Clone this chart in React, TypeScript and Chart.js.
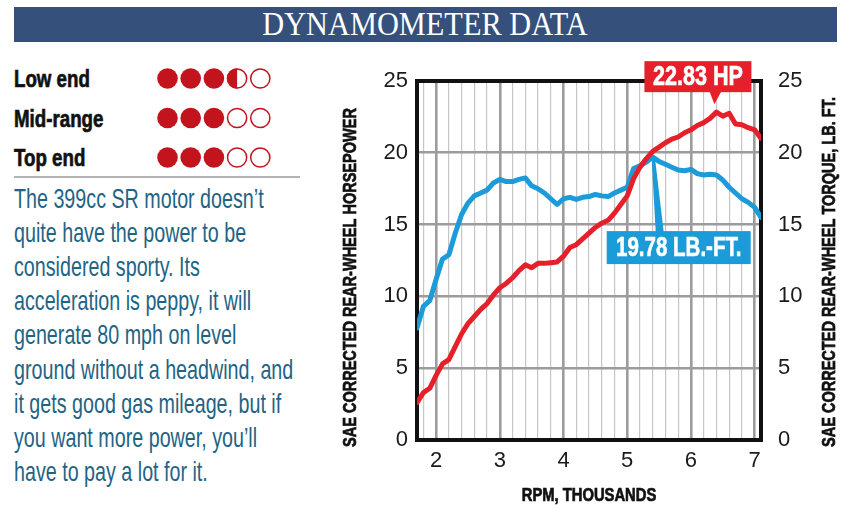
import React, { useEffect, useRef } from 'react';
import { Chart, registerables } from 'chart.js';

Chart.register(...registerables);

// ---------- data ----------
const rpm = [
  1.7, 1.8, 1.9, 2.0, 2.1, 2.2, 2.3, 2.4, 2.5, 2.6, 2.7, 2.8, 2.9, 3.0, 3.1, 3.2, 3.3, 3.4, 3.5,
  3.6, 3.7, 3.8, 3.9, 4.0, 4.1, 4.2, 4.3, 4.4, 4.5, 4.6, 4.7, 4.8, 4.9, 5.0, 5.1, 5.2, 5.3, 5.4,
  5.5, 5.6, 5.7, 5.8, 5.9, 6.0, 6.1, 6.2, 6.3, 6.4, 6.5, 6.6, 6.7, 6.8, 6.9, 7.0, 7.1,
];
const horsepower = [
  2.6, 3.3, 3.6, 4.5, 5.3, 5.6, 6.5, 7.4, 8.1, 8.6, 9.1, 9.5, 10.1, 10.6, 10.9, 11.3, 11.8, 12.2, 12.0,
  12.3, 12.3, 12.35, 12.4, 12.8, 13.4, 13.6, 14.0, 14.4, 14.8, 15.1, 15.3, 15.8, 16.4, 17.0, 18.2, 19.0, 19.6, 20.1,
  20.4, 20.7, 20.95, 21.1, 21.4, 21.6, 21.9, 22.1, 22.4, 22.83, 22.55, 22.75, 22.0, 21.95, 21.75, 21.6, 21.0,
];
const torque = [
  7.8, 9.3, 9.7, 11.2, 12.6, 12.9, 14.4, 15.7, 16.5, 17.0, 17.2, 17.4, 17.9, 18.15, 18.0, 18.0, 18.15, 18.25, 17.7,
  17.5, 17.2, 16.8, 16.4, 16.8, 16.9, 16.75, 16.9, 16.95, 17.1, 17.0, 16.95, 17.2, 17.4, 17.6, 18.9, 19.1, 19.35, 19.7,
  19.4, 19.2, 19.0, 18.8, 18.75, 18.85, 18.55, 18.45, 18.5, 18.45, 18.1, 17.6, 17.2, 16.8, 16.55, 16.2, 15.5,
];
const rpmTickLabels = [2, 3, 4, 5, 6, 7];
const valueTicks = [0, 5, 10, 15, 20, 25];
const hpCallout = '22.83 HP';
const torqueCallout = '19.78 LB.-FT.';

const headerTitle = 'DYNAMOMETER DATA';
const ratingLabels = ['Low end', 'Mid-range', 'Top end'];
const ratingScores = [3.5, 3, 3];
const paragraphLines = [
  'The 399cc SR motor doesn\u2019t',
  'quite have the power to be',
  'considered sporty. Its',
  'acceleration is peppy, it will',
  'generate 80 mph on level',
  'ground without a headwind, and',
  'it gets good gas mileage, but if',
  'you want more power, you\u2019ll',
  'have to pay a lot for it.',
];
const xTitle = 'RPM, THOUSANDS';
const leftTitle = 'SAE CORRECTED REAR-WHEEL HORSEPOWER';
const rightTitle = 'SAE CORRECTED REAR-WHEEL TORQUE, LB. FT.';

// ---------- styles ----------
const SANS = "'Liberation Sans', Arial, sans-serif";
const SERIF = "'Liberation Serif', 'DejaVu Serif', serif";
const RED = '#e5202b';
const BLUE = '#1b9bd7';
const NAVY = '#34507b';
const DOT_RED = '#c3141d';
const TEXT_TEAL = '#1f6485';

const isMajor = (v: number) => Math.abs(v - Math.round(v)) < 1e-6;

// draw horizontally-condensed text on the canvas (emulates a narrow typeface)
function condensedText(
  ctx: CanvasRenderingContext2D,
  text: string,
  x: number,
  y: number,
  sx: number,
  align: CanvasTextAlign,
  rotation = 0,
  heavy = 0,
) {
  ctx.save();
  ctx.translate(x, y);
  if (rotation) ctx.rotate(rotation);
  ctx.scale(sx, 1);
  ctx.textAlign = align;
  ctx.fillText(text, 0, 0);
  if (heavy > 0) {
    ctx.lineWidth = heavy;
    ctx.strokeStyle = ctx.fillStyle as string;
    ctx.strokeText(text, 0, 0);
  }
  ctx.restore();
}

const overlayPlugin = {
  id: 'dynoOverlay',
  beforeDatasetsDraw(chart: any) {
    const { ctx, chartArea: a } = chart;
    ctx.save();
    ctx.strokeStyle = '#111';
    ctx.lineWidth = 4;
    ctx.strokeRect(a.left, a.top, a.right - a.left, a.bottom - a.top);
    ctx.restore();
  },
  afterDatasetsDraw(chart: any) {
    const { ctx } = chart;
    const xs = chart.scales.x;
    const ys = chart.scales.y;
    const ys1 = chart.scales.y1;
    ctx.save();
    ctx.font = `bold 27px ${SANS}`;
    ctx.textBaseline = 'middle';

    // HP callout
    let hi = 0;
    horsepower.forEach((v, i) => { if (v > horsepower[hi]) hi = i; });
    const hx = xs.getPixelForValue(rpm[hi]);
    const hy = ys.getPixelForValue(horsepower[hi]);
    const hbL = hx - 72, hbR = hx + 35, hbT = hy - 51, hbB = hy - 20;
    ctx.fillStyle = RED;
    ctx.fillRect(hbL, hbT, hbR - hbL, hbB - hbT);
    ctx.beginPath();
    ctx.moveTo(hx - 7, hbB - 1);
    ctx.lineTo(hx + 5, hbB - 1);
    ctx.lineTo(hx - 2, hy - 8);
    ctx.closePath();
    ctx.fill();
    ctx.fillStyle = '#ffffff';
    condensedText(ctx, hpCallout, (hbL + hbR) / 2, (hbT + hbB) / 2 + 1, 0.8, 'center', 0, 0.6);

    // Torque callout
    let ti = 0;
    torque.forEach((v, i) => { if (v > torque[ti]) ti = i; });
    const tx = xs.getPixelForValue(rpm[ti]);
    const ty = ys1.getPixelForValue(torque[ti]);
    const tbL = tx - 46, tbR = tx + 98, tbT = ty + 74, tbB = ty + 107;
    ctx.fillStyle = BLUE;
    ctx.beginPath();
    ctx.moveTo(tx - 1, ty + 3);
    ctx.lineTo(tx + 2.5, ty + 3);
    ctx.lineTo(tx + 11, tbT + 1);
    ctx.lineTo(tx + 3, tbT + 1);
    ctx.closePath();
    ctx.fill();
    ctx.fillRect(tbL, tbT, tbR - tbL, tbB - tbT);
    ctx.fillStyle = '#ffffff';
    condensedText(ctx, torqueCallout, (tbL + tbR) / 2, (tbT + tbB) / 2 + 1, 0.76, 'center', 0, 0.6);
    ctx.restore();
  },
  afterDraw(chart: any) {
    const { ctx, chartArea: a } = chart;
    ctx.save();
    ctx.fillStyle = '#111111';
    ctx.textBaseline = 'middle';
    ctx.font = `bold 17.5px ${SANS}`;
    condensedText(ctx, leftTitle, a.left - 66, a.bottom + 7, 0.83, 'left', -Math.PI / 2, 0.7);
    condensedText(ctx, rightTitle, a.right + 69, a.bottom + 7, 0.83, 'left', -Math.PI / 2, 0.7);
    ctx.font = `bold 18px ${SANS}`;
    condensedText(ctx, xTitle, (a.left + a.right) / 2, a.bottom + 56, 0.82, 'center', 0, 0.7);
    ctx.restore();
  },
};

function RatingDots({ score, cy }: { score: number; cy: number }) {
  const items = [];
  for (let i = 0; i < 5; i++) {
    const cx = 167.5 + i * 23.2;
    if (score >= i + 1) {
      items.push(<circle key={i} cx={cx} cy={cy} r={10.3} fill={DOT_RED} />);
    } else if (score >= i + 0.5) {
      items.push(
        <g key={i}>
          <circle cx={cx} cy={cy} r={9.6} fill="#fff" stroke={DOT_RED} strokeWidth={1.5} />
          <path d={`M ${cx} ${cy - 10.3} A 10.3 10.3 0 0 0 ${cx} ${cy + 10.3} Z`} fill={DOT_RED} />
        </g>,
      );
    } else {
      items.push(<circle key={i} cx={cx} cy={cy} r={9.6} fill="#fff" stroke={DOT_RED} strokeWidth={1.5} />);
    }
  }
  return <g>{items}</g>;
}

export default function App() {
  const canvasRef = useRef<HTMLCanvasElement>(null);

  useEffect(() => {
    if (!canvasRef.current) return;
    const tickFont = { family: SANS, size: 22 };
    const chart = new Chart(canvasRef.current, {
      type: 'line',
      data: {
        datasets: [
          {
            label: 'Horsepower',
            data: rpm.map((r, i) => ({ x: r, y: horsepower[i] })),
            borderColor: RED,
            backgroundColor: RED,
            borderWidth: 5,
            pointRadius: 0,
            tension: 0,
            borderJoinStyle: 'round',
            borderCapStyle: 'round',
            yAxisID: 'y',
          },
          {
            label: 'Torque',
            data: rpm.map((r, i) => ({ x: r, y: torque[i] })),
            borderColor: BLUE,
            backgroundColor: BLUE,
            borderWidth: 5,
            pointRadius: 0,
            tension: 0,
            borderJoinStyle: 'round',
            borderCapStyle: 'round',
            yAxisID: 'y1',
          },
        ],
      },
      options: {
        responsive: false,
        animation: false,
        devicePixelRatio: 1,
        layout: { padding: { top: 31, left: 0, right: 0, bottom: 0 } },
        plugins: { legend: { display: false }, tooltip: { enabled: false } },
        scales: {
          x: {
            type: 'linear',
            min: 1.7,
            max: 7.1,
            afterBuildTicks: (axis: any) => {
              const t = [];
              for (let k = 9; k <= 35; k++) t.push({ value: k / 5 });
              axis.ticks = t;
            },
            afterFit: (s: any) => { s.height = 75; },
            border: { display: false },
            grid: {
              drawTicks: false,
              color: (c: any) => (c.tick && isMajor(c.tick.value) ? '#9c9c9c' : '#c6c6c6'),
              lineWidth: (c: any) => (c.tick && isMajor(c.tick.value) ? 2.6 : 1.2),
            },
            ticks: {
              autoSkip: false,
              maxRotation: 0,
              padding: 8,
              font: tickFont,
              color: '#1a1a1a',
              callback: (v: any) => {
                const n = Number(v);
                return rpmTickLabels.some((t) => Math.abs(t - n) < 1e-6) ? String(Math.round(n)) : '';
              },
            },
          },
          y: {
            position: 'left',
            min: valueTicks[0],
            max: valueTicks[valueTicks.length - 1],
            afterFit: (s: any) => { s.width = 87; },
            border: { display: false },
            grid: { drawTicks: false, color: '#9c9c9c', lineWidth: 2.6 },
            ticks: { stepSize: 5, padding: 9, font: tickFont, color: '#1a1a1a' },
          },
          y1: {
            position: 'right',
            min: valueTicks[0],
            max: valueTicks[valueTicks.length - 1],
            afterFit: (s: any) => { s.width = 89; },
            border: { display: false },
            grid: { display: false, drawOnChartArea: false },
            ticks: { stepSize: 5, padding: 9, font: tickFont, color: '#1a1a1a' },
          },
        },
      } as any,
      plugins: [overlayPlugin],
    });
    return () => chart.destroy();
  }, []);

  const ratingBaselines = [87, 126.5, 166];
  return (
    <div style={{ position: 'absolute', left: 0, top: 0, width: 850, height: 515, background: '#fff', overflow: 'hidden' }}>
      <svg width={850} height={515} style={{ position: 'absolute', left: 0, top: 0 }}>
        <rect x={14} y={7} width={823} height={35} fill={NAVY} />
        <text
          transform="translate(425 35) scale(0.92 1)"
          textAnchor="middle"
          fill="#fff"
          fontFamily={SERIF}
          fontSize={33}
        >
          {headerTitle}
        </text>
        {ratingLabels.map((lab, i) => (
          <g key={lab}>
            <text
              transform={`translate(14 ${ratingBaselines[i]}) scale(0.78 1)`}
              fontFamily={SANS}
              fontWeight="bold"
              fontSize={24}
              fill="#111"
              stroke="#111"
              strokeWidth={0.7}
            >
              {lab}
            </text>
            <RatingDots score={ratingScores[i]} cy={ratingBaselines[i] - 8.5} />
          </g>
        ))}
        <line x1={14} y1={177} x2={300} y2={177} stroke="#b3b3b3" strokeWidth={2} />
        {paragraphLines.map((ln, i) => (
          <text
            key={i}
            transform={`translate(14 ${208 + i * 34.1}) scale(0.73 1)`}
            fontFamily={SANS}
            fontSize={27}
            fill={TEXT_TEAL}
          >
            {ln}
          </text>
        ))}
      </svg>
      <canvas
        ref={canvasRef}
        width={520}
        height={465}
        style={{ position: 'absolute', left: 330, top: 50, width: 520, height: 465 }}
      />
    </div>
  );
}
